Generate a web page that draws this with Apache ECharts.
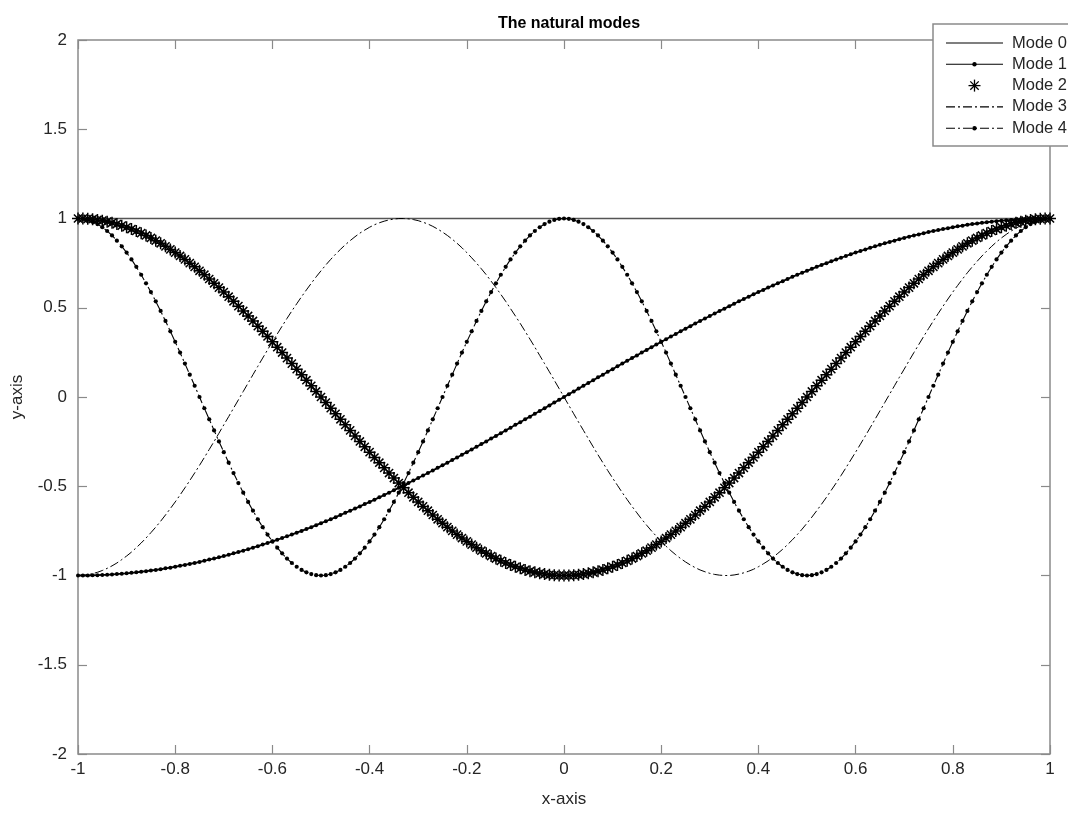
<!DOCTYPE html>
<html>
<head>
<meta charset="utf-8">
<title>The natural modes</title>
<script src="https://cdn.jsdelivr.net/npm/echarts@6/dist/echarts.min.js"></script>
<style>
  html, body { margin: 0; padding: 0; background: #ffffff; }
  #chart { width: 1068px; height: 817px; }
</style>
</head>
<body>
<div id="chart"></div>
<script>
// Sample positions along the rod, step 0.01
const xs = [
  -1,-0.99,-0.98,-0.97,-0.96,-0.95,-0.94,-0.93,-0.92,-0.91,
  -0.9,-0.89,-0.88,-0.87,-0.86,-0.85,-0.84,-0.83,-0.82,-0.81,
  -0.8,-0.79,-0.78,-0.77,-0.76,-0.75,-0.74,-0.73,-0.72,-0.71,
  -0.7,-0.69,-0.68,-0.67,-0.66,-0.65,-0.64,-0.63,-0.62,-0.61,
  -0.6,-0.59,-0.58,-0.57,-0.56,-0.55,-0.54,-0.53,-0.52,-0.51,
  -0.5,-0.49,-0.48,-0.47,-0.46,-0.45,-0.44,-0.43,-0.42,-0.41,
  -0.4,-0.39,-0.38,-0.37,-0.36,-0.35,-0.34,-0.33,-0.32,-0.31,
  -0.3,-0.29,-0.28,-0.27,-0.26,-0.25,-0.24,-0.23,-0.22,-0.21,
  -0.2,-0.19,-0.18,-0.17,-0.16,-0.15,-0.14,-0.13,-0.12,-0.11,
  -0.1,-0.09,-0.08,-0.07,-0.06,-0.05,-0.04,-0.03,-0.02,-0.01,
  0,
  0.01,0.02,0.03,0.04,0.05,0.06,0.07,0.08,0.09,0.1,
  0.11,0.12,0.13,0.14,0.15,0.16,0.17,0.18,0.19,0.2,
  0.21,0.22,0.23,0.24,0.25,0.26,0.27,0.28,0.29,0.3,
  0.31,0.32,0.33,0.34,0.35,0.36,0.37,0.38,0.39,0.4,
  0.41,0.42,0.43,0.44,0.45,0.46,0.47,0.48,0.49,0.5,
  0.51,0.52,0.53,0.54,0.55,0.56,0.57,0.58,0.59,0.6,
  0.61,0.62,0.63,0.64,0.65,0.66,0.67,0.68,0.69,0.7,
  0.71,0.72,0.73,0.74,0.75,0.76,0.77,0.78,0.79,0.8,
  0.81,0.82,0.83,0.84,0.85,0.86,0.87,0.88,0.89,0.9,
  0.91,0.92,0.93,0.94,0.95,0.96,0.97,0.98,0.99,1
];

// Mode 0: rigid (constant) mode
const mode0X = [-1, 1];
const mode0 = [1, 1];

// Mode 1
const mode1 = [
  -1.000,-1.000,-1.000,-0.999,-0.998,-0.997,-0.996,-0.994,-0.992,-0.990,
  -0.988,-0.985,-0.982,-0.979,-0.976,-0.972,-0.969,-0.965,-0.960,-0.956,
  -0.951,-0.946,-0.941,-0.935,-0.930,-0.924,-0.918,-0.911,-0.905,-0.898,
  -0.891,-0.884,-0.876,-0.869,-0.861,-0.853,-0.844,-0.836,-0.827,-0.818,
  -0.809,-0.800,-0.790,-0.780,-0.771,-0.760,-0.750,-0.740,-0.729,-0.718,
  -0.707,-0.696,-0.685,-0.673,-0.661,-0.649,-0.637,-0.625,-0.613,-0.600,
  -0.588,-0.575,-0.562,-0.549,-0.536,-0.522,-0.509,-0.495,-0.482,-0.468,
  -0.454,-0.440,-0.426,-0.412,-0.397,-0.383,-0.368,-0.353,-0.339,-0.324,
  -0.309,-0.294,-0.279,-0.264,-0.249,-0.233,-0.218,-0.203,-0.187,-0.172,
  -0.156,-0.141,-0.125,-0.110,-0.094,-0.078,-0.063,-0.047,-0.031,-0.016,
  0,
  0.016,0.031,0.047,0.063,0.078,0.094,0.110,0.125,0.141,0.156,
  0.172,0.187,0.203,0.218,0.233,0.249,0.264,0.279,0.294,0.309,
  0.324,0.339,0.353,0.368,0.383,0.397,0.412,0.426,0.440,0.454,
  0.468,0.482,0.495,0.509,0.522,0.536,0.549,0.562,0.575,0.588,
  0.600,0.613,0.625,0.637,0.649,0.661,0.673,0.685,0.696,0.707,
  0.718,0.729,0.740,0.750,0.760,0.771,0.780,0.790,0.800,0.809,
  0.818,0.827,0.836,0.844,0.853,0.861,0.869,0.876,0.884,0.891,
  0.898,0.905,0.911,0.918,0.924,0.930,0.935,0.941,0.946,0.951,
  0.956,0.960,0.965,0.969,0.972,0.976,0.979,0.982,0.985,0.988,
  0.990,0.992,0.994,0.996,0.997,0.998,0.999,1.000,1.000,1.000
];

// Mode 2
const mode2 = [
  1.000,1.000,0.998,0.996,0.992,0.988,0.982,0.976,0.969,0.960,
  0.951,0.941,0.930,0.918,0.905,0.891,0.876,0.861,0.844,0.827,
  0.809,0.790,0.771,0.750,0.729,0.707,0.685,0.661,0.637,0.613,
  0.588,0.562,0.536,0.509,0.482,0.454,0.426,0.397,0.368,0.339,
  0.309,0.279,0.249,0.218,0.187,0.156,0.125,0.094,0.063,0.031,
  0,-0.031,-0.063,-0.094,-0.125,-0.156,-0.187,-0.218,-0.249,-0.279,
  -0.309,-0.339,-0.368,-0.397,-0.426,-0.454,-0.482,-0.509,-0.536,-0.562,
  -0.588,-0.613,-0.637,-0.661,-0.685,-0.707,-0.729,-0.750,-0.771,-0.790,
  -0.809,-0.827,-0.844,-0.861,-0.876,-0.891,-0.905,-0.918,-0.930,-0.941,
  -0.951,-0.960,-0.969,-0.976,-0.982,-0.988,-0.992,-0.996,-0.998,-1.000,
  -1.000,
  -1.000,-0.998,-0.996,-0.992,-0.988,-0.982,-0.976,-0.969,-0.960,-0.951,
  -0.941,-0.930,-0.918,-0.905,-0.891,-0.876,-0.861,-0.844,-0.827,-0.809,
  -0.790,-0.771,-0.750,-0.729,-0.707,-0.685,-0.661,-0.637,-0.613,-0.588,
  -0.562,-0.536,-0.509,-0.482,-0.454,-0.426,-0.397,-0.368,-0.339,-0.309,
  -0.279,-0.249,-0.218,-0.187,-0.156,-0.125,-0.094,-0.063,-0.031,0,
  0.031,0.063,0.094,0.125,0.156,0.187,0.218,0.249,0.279,0.309,
  0.339,0.368,0.397,0.426,0.454,0.482,0.509,0.536,0.562,0.588,
  0.613,0.637,0.661,0.685,0.707,0.729,0.750,0.771,0.790,0.809,
  0.827,0.844,0.861,0.876,0.891,0.905,0.918,0.930,0.941,0.951,
  0.960,0.969,0.976,0.982,0.988,0.992,0.996,0.998,1.000,1.000
];

// Mode 3
const mode3 = [
  -1.000,-0.999,-0.996,-0.990,-0.982,-0.972,-0.960,-0.946,-0.930,-0.911,
  -0.891,-0.869,-0.844,-0.818,-0.790,-0.760,-0.729,-0.696,-0.661,-0.625,
  -0.588,-0.549,-0.509,-0.468,-0.426,-0.383,-0.339,-0.294,-0.249,-0.203,
  -0.156,-0.110,-0.063,-0.016,0.031,0.078,0.125,0.172,0.218,0.264,
  0.309,0.353,0.397,0.440,0.482,0.522,0.562,0.600,0.637,0.673,
  0.707,0.740,0.771,0.800,0.827,0.853,0.876,0.898,0.918,0.935,
  0.951,0.965,0.976,0.985,0.992,0.997,1.000,1.000,0.998,0.994,
  0.988,0.979,0.969,0.956,0.941,0.924,0.905,0.884,0.861,0.836,
  0.809,0.780,0.750,0.718,0.685,0.649,0.613,0.575,0.536,0.495,
  0.454,0.412,0.368,0.324,0.279,0.233,0.187,0.141,0.094,0.047,
  0,
  -0.047,-0.094,-0.141,-0.187,-0.233,-0.279,-0.324,-0.368,-0.412,-0.454,
  -0.495,-0.536,-0.575,-0.613,-0.649,-0.685,-0.718,-0.750,-0.780,-0.809,
  -0.836,-0.861,-0.884,-0.905,-0.924,-0.941,-0.956,-0.969,-0.979,-0.988,
  -0.994,-0.998,-1.000,-1.000,-0.997,-0.992,-0.985,-0.976,-0.965,-0.951,
  -0.935,-0.918,-0.898,-0.876,-0.853,-0.827,-0.800,-0.771,-0.740,-0.707,
  -0.673,-0.637,-0.600,-0.562,-0.522,-0.482,-0.440,-0.397,-0.353,-0.309,
  -0.264,-0.218,-0.172,-0.125,-0.078,-0.031,0.016,0.063,0.110,0.156,
  0.203,0.249,0.294,0.339,0.383,0.426,0.468,0.509,0.549,0.588,
  0.625,0.661,0.696,0.729,0.760,0.790,0.818,0.844,0.869,0.891,
  0.911,0.930,0.946,0.960,0.972,0.982,0.990,0.996,0.999,1.000
];

// Mode 4
const mode4 = [
  1.000,0.998,0.992,0.982,0.969,0.951,0.930,0.905,0.876,0.844,
  0.809,0.771,0.729,0.685,0.637,0.588,0.536,0.482,0.426,0.368,
  0.309,0.249,0.187,0.125,0.063,0,-0.063,-0.125,-0.187,-0.249,
  -0.309,-0.368,-0.426,-0.482,-0.536,-0.588,-0.637,-0.685,-0.729,-0.771,
  -0.809,-0.844,-0.876,-0.905,-0.930,-0.951,-0.969,-0.982,-0.992,-0.998,
  -1.000,-0.998,-0.992,-0.982,-0.969,-0.951,-0.930,-0.905,-0.876,-0.844,
  -0.809,-0.771,-0.729,-0.685,-0.637,-0.588,-0.536,-0.482,-0.426,-0.368,
  -0.309,-0.249,-0.187,-0.125,-0.063,0,0.063,0.125,0.187,0.249,
  0.309,0.368,0.426,0.482,0.536,0.588,0.637,0.685,0.729,0.771,
  0.809,0.844,0.876,0.905,0.930,0.951,0.969,0.982,0.992,0.998,
  1.000,
  0.998,0.992,0.982,0.969,0.951,0.930,0.905,0.876,0.844,
  0.809,0.771,0.729,0.685,0.637,0.588,0.536,0.482,0.426,0.368,
  0.309,0.249,0.187,0.125,0.063,0,-0.063,-0.125,-0.187,-0.249,
  -0.309,-0.368,-0.426,-0.482,-0.536,-0.588,-0.637,-0.685,-0.729,-0.771,
  -0.809,-0.844,-0.876,-0.905,-0.930,-0.951,-0.969,-0.982,-0.992,-0.998,
  -1.000,-0.998,-0.992,-0.982,-0.969,-0.951,-0.930,-0.905,-0.876,-0.844,
  -0.809,-0.771,-0.729,-0.685,-0.637,-0.588,-0.536,-0.482,-0.426,-0.368,
  -0.309,-0.249,-0.187,-0.125,-0.063,0,0.063,0.125,0.187,0.249,
  0.309,0.368,0.426,0.482,0.536,0.588,0.637,0.685,0.729,0.771,
  0.809,0.844,0.876,0.905,0.930,0.951,0.969,0.982,0.992,0.998,
  1.000
];

const seriesNames = ['Mode 0', 'Mode 1', 'Mode 2', 'Mode 3', 'Mode 4'];

const xTicks = [-1, -0.8, -0.6, -0.4, -0.2, 0, 0.2, 0.4, 0.6, 0.8, 1];
const xTickLabels = ['-1', '-0.8', '-0.6', '-0.4', '-0.2', '0', '0.2', '0.4', '0.6', '0.8', '1'];
const yTicks = [-2, -1.5, -1, -0.5, 0, 0.5, 1, 1.5, 2];
const yTickLabels = ['-2', '-1.5', '-1', '-0.5', '0', '0.5', '1', '1.5', '2'];

const FONT = '"Liberation Sans", Arial, Helvetica, sans-serif';
const INK = '#262626';
const FRAME = '#8a8a8a';
const DASH_DOT = [9, 3, 2, 3];
const ASTERISK = 'path://M0,5L10,5M5,0L5,10M1.6,1.6L8.4,8.4M8.4,1.6L1.6,8.4';

function pairs(xv, yv) {
  return yv.map((y, i) => [xv[i], y]);
}
function tickText(ticks, labels) {
  return v => {
    const k = ticks.findIndex(t => Math.abs(t - v) < 1e-9);
    return k >= 0 ? labels[k] : '';
  };
}

const chart = echarts.init(document.getElementById('chart'), null, { renderer: 'canvas' });

const gridLeft = 78, gridRight = 18, gridTop = 40, gridBottom = 63;

// Hand-built legend box in the upper right, partly running off the canvas
const LEGEND_Z = 100;
const legendX = 933, legendY = 24, rowGap = 21.3, firstRow = 43;
const sampleX0 = 946, sampleX1 = 1003, textX = 1012;
const legendChildren = [{
  type: 'rect', z: LEGEND_Z,
  shape: { x: legendX, y: legendY, width: 170, height: 122 },
  style: { fill: '#ffffff', stroke: FRAME, lineWidth: 1.5 }
}];
seriesNames.forEach((name, i) => {
  const cy = firstRow + i * rowGap;
  if (i !== 2) {
    legendChildren.push({
      type: 'line', z: LEGEND_Z + 1,
      shape: { x1: sampleX0, y1: cy, x2: sampleX1, y2: cy },
      style: { stroke: '#000', lineWidth: 1.1, lineDash: (i >= 3 ? DASH_DOT : null) }
    });
  }
  if (i === 1 || i === 4) {
    legendChildren.push({
      type: 'circle', z: LEGEND_Z + 2,
      shape: { cx: (sampleX0 + sampleX1) / 2, cy: cy, r: 2.2 },
      style: { fill: '#000' }
    });
  }
  if (i === 2) {
    const c = (sampleX0 + sampleX1) / 2, r = 6, d = r * 0.7;
    [[c - r, cy, c + r, cy], [c, cy - r, c, cy + r],
     [c - d, cy - d, c + d, cy + d], [c + d, cy - d, c - d, cy + d]].forEach(s => {
      legendChildren.push({
        type: 'line', z: LEGEND_Z + 1,
        shape: { x1: s[0], y1: s[1], x2: s[2], y2: s[3] },
        style: { stroke: '#000', lineWidth: 1.3 }
      });
    });
  }
  legendChildren.push({
    type: 'text', z: LEGEND_Z + 1,
    style: {
      x: textX, y: cy, text: name, fill: INK,
      font: '16.5px ' + FONT, verticalAlign: 'middle', textAlign: 'left'
    }
  });
});

const tickStyle = { show: true, inside: true, length: 9, lineStyle: { color: FRAME, width: 1.2 } };
const hiddenLine = { show: false, onZero: false };

const option = {
  animation: false,
  backgroundColor: '#ffffff',
  title: {
    text: 'The natural modes',
    left: 564,
    textAlign: 'center',
    top: 11,
    textStyle: { fontFamily: FONT, fontSize: 16, fontWeight: 'bold', color: '#000' }
  },
  grid: {
    left: gridLeft, right: gridRight, top: gridTop, bottom: gridBottom,
    show: true, borderColor: FRAME, borderWidth: 1.5, backgroundColor: '#ffffff'
  },
  xAxis: [{
    type: 'value', min: -1, max: 1, interval: 0.2, position: 'bottom',
    name: 'x-axis', nameLocation: 'middle', nameGap: 37,
    nameTextStyle: { fontFamily: FONT, fontSize: 17, color: INK },
    axisLine: hiddenLine,
    axisTick: tickStyle,
    axisLabel: { fontFamily: FONT, fontSize: 17, color: INK, margin: 7, formatter: tickText(xTicks, xTickLabels) },
    splitLine: { show: false }
  }, {
    type: 'value', min: -1, max: 1, interval: 0.2, position: 'top',
    axisLine: hiddenLine,
    axisTick: tickStyle,
    axisLabel: { show: false },
    splitLine: { show: false }
  }],
  yAxis: [{
    type: 'value', min: -2, max: 2, interval: 0.5, position: 'left',
    name: 'y-axis', nameLocation: 'middle', nameGap: 52, nameRotate: 90,
    nameTextStyle: { fontFamily: FONT, fontSize: 17, color: INK },
    axisLine: hiddenLine,
    axisTick: tickStyle,
    axisLabel: { fontFamily: FONT, fontSize: 17, color: INK, margin: 11, formatter: tickText(yTicks, yTickLabels) },
    splitLine: { show: false }
  }, {
    type: 'value', min: -2, max: 2, interval: 0.5, position: 'right',
    axisLine: hiddenLine,
    axisTick: tickStyle,
    axisLabel: { show: false },
    splitLine: { show: false }
  }],
  graphic: [{ type: 'group', z: LEGEND_Z, children: legendChildren }],
  series: [
    {
      name: seriesNames[0], type: 'line', data: pairs(mode0X, mode0),
      showSymbol: false, symbol: 'none',
      lineStyle: { color: '#555555', width: 1.6 },
      silent: true, z: 2
    },
    {
      name: seriesNames[1], type: 'line', data: pairs(xs, mode1),
      symbol: 'circle', symbolSize: 4, showSymbol: true,
      itemStyle: { color: '#000' },
      lineStyle: { color: '#000', width: 1.8 },
      silent: true, z: 3
    },
    {
      name: seriesNames[2], type: 'line', data: pairs(xs, mode2),
      symbol: ASTERISK, symbolSize: 12, showSymbol: true,
      itemStyle: { color: 'rgba(0,0,0,0)', borderColor: '#000', borderWidth: 1.5 },
      lineStyle: { width: 0, opacity: 0 },
      silent: true, z: 4
    },
    {
      name: seriesNames[3], type: 'line', data: pairs(xs, mode3),
      symbol: 'none', showSymbol: false,
      lineStyle: { color: '#000', width: 1, type: DASH_DOT },
      silent: true, z: 5
    },
    {
      name: seriesNames[4], type: 'line', data: pairs(xs, mode4),
      symbol: 'circle', symbolSize: 4.2, showSymbol: true,
      itemStyle: { color: '#000' },
      lineStyle: { color: '#000', width: 1.1, type: DASH_DOT },
      silent: true, z: 6
    }
  ]
};

chart.setOption(option);
</script>
</body>
</html>
